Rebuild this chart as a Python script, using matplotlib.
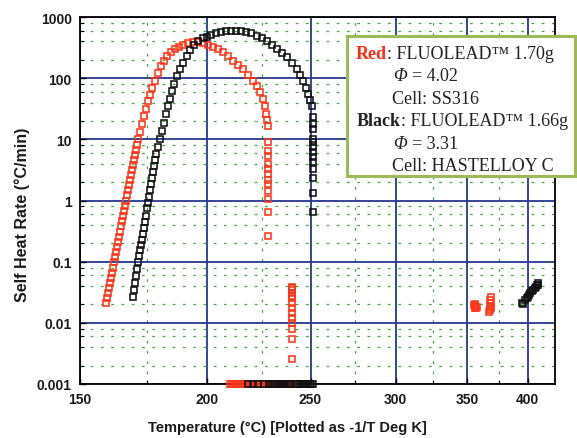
import numpy as np
import matplotlib
matplotlib.use("Agg")
import matplotlib.pyplot as plt
from matplotlib.ticker import FixedLocator, FixedFormatter, NullFormatter
from matplotlib.patches import Rectangle

# ---------------- data (temperature in degC, self heat rate in degC/min) -------------
red_temp = [159.3, 159.7, 160.1, 160.4, 160.8, 161.2, 161.55, 161.9, 162.3, 162.7,
            163.0, 163.4, 163.8, 164.2, 164.5, 164.9, 165.3, 165.7, 166.0, 166.4,
            166.8, 167.2, 167.5, 167.9, 168.3, 168.7, 169.1, 169.5, 169.8, 170.2,
            170.6, 171.0, 171.4, 172.2, 172.9, 173.7, 174.5, 175.3, 176.1, 176.9,
            178.1, 179.3, 180.5, 181.7, 182.9, 184.6, 186.2, 187.9, 189.6, 191.7,
            193.8, 196.0, 198.1, 200.3, 202.5, 204.8, 207.0, 209.3, 211.5, 213.9,
            216.2, 218.5, 220.9, 222.9, 224.3, 225.8, 226.7, 227.2, 227.7, 228.2]
red_rate = [0.0213, 0.0257, 0.0310, 0.0375, 0.0453, 0.0547, 0.0661, 0.0798, 0.100, 0.121,
            0.146, 0.176, 0.213, 0.257, 0.310, 0.389, 0.470, 0.568, 0.686, 0.828,
            1.00, 1.21, 1.46, 1.76, 2.13, 2.57, 3.10, 3.75, 4.53, 5.47,
            6.61, 7.98, 10.0, 13.0, 17.6, 23.8, 31.0, 42.0, 52.6, 68.5,
            89.3, 121, 157, 190, 230, 267, 299, 322, 348, 375,
            389, 389, 375, 348, 322, 299, 267, 230, 190, 163,
            141, 112, 89.3, 74, 58.9, 45.3, 34.8, 25.7, 20.5, 16.3]

red_drop1_temp = [228.2] * 12
red_drop1_rate = [8.9, 6.35, 5.26, 3.89, 3.22, 2.67, 2.2, 1.83, 1.41, 1.04, 0.64, 0.267]

red_drop2_temp = [240.3] * 14
red_drop2_rate = [0.039, 0.037, 0.035, 0.031, 0.0277, 0.0257, 0.0213, 0.0176, 0.0146,
                  0.0121, 0.0100, 0.0080, 0.0055, 0.0026]

red_floor_temp = [210, 211, 212, 213, 214, 215, 216, 217, 218, 219, 220, 221, 222, 223,
                  224, 225, 226, 227, 228, 229, 230, 231, 232, 233, 234, 235, 236, 237,
                  238, 239, 240, 241]
red_floor_rate = [0.001] * len(red_floor_temp)

red_late_temp = [355.5, 356.0, 356.5, 357.0, 356.2, 357.3,
                 367.5, 368.0, 368.3, 368.6, 368.2, 369.0, 368.8]
red_late_rate = [0.0195, 0.0185, 0.0178, 0.0172, 0.0200, 0.0182,
                 0.0150, 0.0165, 0.0185, 0.0210, 0.0240, 0.0265, 0.0175]

black_temp = [169.5, 169.8, 170.2, 170.6, 171.0, 171.4, 171.8, 172.2, 172.5, 172.9,
              173.3, 173.7, 174.1, 174.5, 174.9, 175.3, 175.7, 176.1, 176.5, 176.9,
              177.3, 177.7, 178.1, 178.5, 179.3, 180.1, 180.9, 181.7, 182.5, 183.4,
              184.2, 185.0, 185.8, 187.0, 188.3, 189.6, 191.2, 192.5, 194.2, 196.0,
              198.1, 199.8, 201.6, 203.8, 206.1, 208.3, 210.6, 212.9, 215.2, 217.6,
              219.9, 222.9, 225.3, 227.7, 230.2, 232.7, 235.2, 237.8, 240.3, 242.9,
              244.5, 246.1, 247.7, 248.7, 249.8, 250.9]
black_rate = [0.0267, 0.035, 0.0453, 0.0589, 0.0767, 0.100, 0.125, 0.157, 0.190, 0.230,
              0.288, 0.361, 0.453, 0.568, 0.740, 0.927, 1.16, 1.46, 1.83, 2.30,
              2.88, 3.61, 4.53, 5.68, 7.39, 10.0, 13.5, 18.3, 25.7, 34.8,
              45.3, 61.2, 79.8, 108, 141, 176, 230, 288, 348, 404,
              453, 470, 507, 547, 568, 589, 589, 589, 589, 568,
              547, 489, 453, 404, 348, 299, 257, 221, 176, 141,
              112, 89.3, 68.5, 55, 43.6, 34.8]

black_drop_temp = [251.2] * 13
black_drop_rate = [23, 17.7, 14.6, 10, 8.9, 7.39, 6.1, 5.07, 4.2, 3.22, 2.30, 1.35, 0.64]

black_floor_temp = [218.5, 221.0, 223.5, 226.0, 228.5, 230.0, 231.0, 232.0, 233.0, 234.0,
                    235.0, 236.0, 237.0, 238.0, 239.0, 242.5, 243.5, 244.5, 245.5, 246.5,
                    247.5, 248.5, 249.5, 250.5, 251.4]
black_floor_rate = [0.001] * len(black_floor_temp)

black_late_temp = [395.2, 396.0, 397.7, 399.0, 400.3, 401.0, 402.2, 403.5, 404.8, 406.0,
                   407.6, 408.5, 409.3, 409.5]
black_late_rate = [0.0213, 0.0205, 0.0238, 0.025, 0.0267, 0.028, 0.031, 0.033, 0.035,
                   0.037, 0.039, 0.041, 0.042, 0.044]

x_major = [150, 200, 250, 300, 350, 400]
x_minor = [175, 225, 275, 325, 375]
y_major = [0.001, 0.01, 0.1, 1, 10, 100, 1000]
y_labels = ["0.001", "0.01", "0.1", "1", "10", "100", "1000"]

TXT = "#222222"
legend_lines = [
    [("Red", dict(weight="bold", color="#ff2a10")), (": FLUOLEAD\u2122 1.70g", {})],
    [("\u03a6", dict(style="italic")), ("= 4.02", {})],
    [("Cell: SS316", {})],
    [("Black", dict(weight="bold")), (": FLUOLEAD\u2122 1.66g", {})],
    [("\u03a6", dict(style="italic")), ("= 3.31", {})],
    [("Cell: HASTELLOY C", {})],
]

# ---------------- figure ---------------------------------------------------------------
W, H = 577, 439
fig = plt.figure(figsize=(W / 100, H / 100), dpi=100)
ax = fig.add_axes([80 / W, 1 - 385 / H, (555 - 80) / W, (385 - 18) / H])


def fwd(t):
    with np.errstate(divide="ignore", invalid="ignore"):
        return -1.0 / (np.asarray(t, dtype=float) + 273.15)


def inv(u):
    with np.errstate(divide="ignore", invalid="ignore"):
        return -1.0 / np.asarray(u, dtype=float) - 273.15


ax.set_xscale("function", functions=(fwd, inv))
ax.set_yscale("log")
ax.set_xlim(150, 425)
ax.set_ylim(0.001, 1000)

ax.xaxis.set_major_locator(FixedLocator(x_major))
ax.xaxis.set_major_formatter(FixedFormatter([str(v) for v in x_major]))
ax.xaxis.set_minor_locator(FixedLocator(x_minor))
ax.xaxis.set_minor_formatter(NullFormatter())
ax.yaxis.set_major_locator(FixedLocator(y_major))
ax.yaxis.set_major_formatter(FixedFormatter(y_labels))
ymin_ticks = [m * 10.0 ** e for e in range(-3, 3) for m in (2, 4, 6, 8)]
ax.yaxis.set_minor_locator(FixedLocator(ymin_ticks))
ax.yaxis.set_minor_formatter(NullFormatter())

ax.set_axisbelow(True)
ax.grid(which="major", color="#24388c", lw=1.3)
ax.grid(which="minor", color="#3fae3f", lw=0.9, ls=(0, (2.2, 6)))

for s in ax.spines.values():
    s.set_color("black")
    s.set_linewidth(1.3)

ax.tick_params(which="both", direction="in", color="black")
ax.tick_params(which="major", length=4, width=1, pad=6)
ax.tick_params(which="minor", length=3, width=0.8)
for lab in ax.get_xticklabels() + ax.get_yticklabels():
    lab.set_fontfamily("Liberation Sans")
    lab.set_fontweight("bold")
    lab.set_fontsize(10)
    lab.set_color("#1a1a1a")

RED = "#ff3418"
BLK = "#111111"
mk = dict(ls="none", marker="s", mfc="none", ms=4.8, mew=1.15)

ax.plot(red_temp, red_rate, mec=RED, **mk)
ax.plot(red_drop1_temp, red_drop1_rate, mec=RED, **mk)
ax.plot(red_drop2_temp, red_drop2_rate, mec=RED, **mk)
ax.plot(red_floor_temp, red_floor_rate, mec=RED, clip_on=False, zorder=5, **mk)
ax.plot(red_late_temp, red_late_rate, mec=RED, **mk)

ax.plot(black_temp, black_rate, mec=BLK, **mk)
ax.plot(black_drop_temp, black_drop_rate, mec=BLK, **mk)
ax.plot(black_floor_temp, black_floor_rate, mec=BLK, clip_on=False, zorder=6, **mk)
ax.plot(black_late_temp, black_late_rate, mec=BLK, **mk)

# axis labels
fig.text(287 / W, 1 - 428 / H, "Temperature (\u00b0C) [Plotted as -1/T Deg K]",
         ha="center", va="center", family="Liberation Sans", weight="bold",
         fontsize=10.5, color="#1a1a1a")
fig.text(22 / W, 1 - 215 / H, "Self Heat Rate (\u00b0C/min)", rotation=90,
         ha="center", va="center", family="Liberation Sans", weight="bold",
         fontsize=11.5, color="#1a1a1a")

# legend box
box = Rectangle((347 / W, 1 - 177 / H), (575 - 347) / W, (177 - 37) / H,
                transform=fig.transFigure, facecolor="white", edgecolor="#9bbb59",
                lw=2.2, zorder=20)
fig.add_artist(box)

fig.canvas.draw()
renderer = fig.canvas.get_renderer()
FS = 13
starts = [356, 393, 392, 357, 393, 392]
bases = [59, 81, 104, 126, 149, 171]
for parts, x0, b in zip(legend_lines, starts, bases):
    x = x0
    for s, kw in parts:
        props = dict(ha="left", va="baseline", family="Liberation Serif",
                     fontsize=FS, color=TXT, zorder=25)
        props.update(kw)
        t = fig.text(x / W, 1 - b / H, s, **props)
        bb = t.get_window_extent(renderer)
        x += bb.width
        if s == "\u03a6":
            x += 5

fig.savefig("out.png", dpi=100)
